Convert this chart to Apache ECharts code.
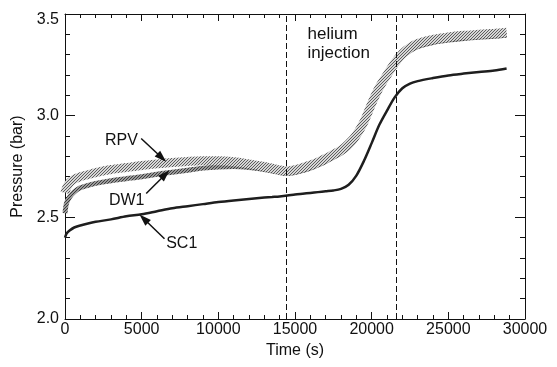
<!DOCTYPE html>
<html><head><meta charset="utf-8">
<script src="https://cdn.jsdelivr.net/npm/echarts@6/dist/echarts.min.js"></script>
<style>html,body{margin:0;padding:0;background:#fff}#c{width:557px;height:367px}</style>
</head><body><div id="c"></div>
<script>
// ---- data ----
const times = [0,100,300,600,1000,1500,2000,3000,4000,5000,6000,7000,8000,9000,10000,11000,12000,13000,13500,14000,14500,15000,15500,16000,16500,17000,17500,18000,18500,19000,19500,20000,20500,21000,21500,22000,22500,23000,24000,25000,26000,27000,28000,28800];
const rpvPressure = [2.62,2.645,2.67,2.688,2.70,2.71,2.72,2.735,2.745,2.755,2.763,2.77,2.775,2.778,2.778,2.773,2.763,2.75,2.742,2.733,2.728,2.735,2.745,2.757,2.772,2.79,2.81,2.83,2.862,2.905,2.97,3.06,3.14,3.20,3.258,3.305,3.335,3.355,3.375,3.387,3.395,3.40,3.405,3.41];
const dw1Pressure = [2.52,2.57,2.60,2.625,2.645,2.657,2.667,2.68,2.69,2.70,2.712,2.722,2.732,2.742,2.748,2.75,2.745,2.735,2.728,2.72,2.715,2.72,2.73,2.742,2.757,2.775,2.795,2.815,2.845,2.888,2.952,3.04,3.12,3.185,3.242,3.29,3.32,3.34,3.36,3.372,3.38,3.386,3.39,3.395];
const sc1Pressure = [2.40,2.42,2.435,2.45,2.46,2.47,2.478,2.49,2.505,2.515,2.53,2.545,2.555,2.565,2.575,2.583,2.59,2.597,2.60,2.603,2.607,2.612,2.616,2.62,2.624,2.628,2.632,2.64,2.66,2.705,2.778,2.865,2.955,3.025,3.09,3.135,3.158,3.17,3.185,3.198,3.207,3.215,3.222,3.232];
const injectionTimes = [14400, 21600];
const seriesNames = ['RPV','DW1','SC1'];

function pairs(vals){ return times.map((t,i)=>[t, vals[i]]); }
function hatch(bg, fg){
  const n = 3;
  const c = document.createElement('canvas'); c.width = n; c.height = n;
  const g = c.getContext('2d'); g.fillStyle = bg; g.fillRect(0,0,n,n);
  g.fillStyle = fg; for (let i=0;i<n;i++) g.fillRect(i,n-1-i,1,1);
  return {image: c, repeat: 'repeat'};
}
const FONT = 'Liberation Sans, Arial, Helvetica, sans-serif';
const INK = '#111';

function axisCommon(isX, showLabels){
  return {
    type:'value',
    min: isX ? 0 : 2.0, max: isX ? 30000 : 3.5, interval: isX ? 5000 : 0.5,
    axisLine:{show:true, onZero:false, lineStyle:{color:INK, width:1}},
    axisTick:{show:true, inside:true, length: isX ? 7 : 10, lineStyle:{color:INK, width:1}},
    minorTick:{show:true, splitNumber:5, length: isX ? 4 : 5, lineStyle:{color:INK, width:1}},
    splitLine:{show:false}, minorSplitLine:{show:false},
    axisLabel:{show:showLabels, color:INK, fontFamily:FONT, fontSize:16,
      margin: isX ? 3 : 6,
      formatter: isX ? (v=>String(v)) : (v=> v===3.5 ? '{top|3.5}' : v.toFixed(1)),
      rich: {top:{fontFamily:FONT, fontSize:16, color:INK, padding:[12,0,0,0]}}
    }
  };
}

const chart = echarts.init(document.getElementById('c'), null, {renderer:'canvas'});
const xBottom = Object.assign(axisCommon(true,true), {position:'bottom', name:'Time (s)', nameLocation:'middle', nameGap:22,
  nameTextStyle:{color:INK, fontFamily:FONT, fontSize:16}});
const xTop = Object.assign(axisCommon(true,false), {position:'top'});
const yLeft = Object.assign(axisCommon(false,true), {position:'left', name:'Pressure (bar)', nameLocation:'middle', nameGap:37,
  nameTextStyle:{color:INK, fontFamily:FONT, fontSize:16}});
const yRight = Object.assign(axisCommon(false,false), {position:'right'});

const arrows = [
  [[4969,2.888],[6313,2.793]],
  [[5296,2.617],[6541,2.711]],
  [[6489,2.395],[5139,2.493]]
];

chart.setOption({
  animation:false,
  backgroundColor:'#fff',
  grid:{left:65, right:32, top:14, bottom:48, containLabel:false},
  xAxis:[xBottom, xTop],
  yAxis:[yLeft, yRight],
  series:[
    {name:seriesNames[1], type:'line', data:pairs(dw1Pressure), showSymbol:false, smooth:0.3,
      lineStyle:{width:5, color:hatch('#9a9a9a','#3c3c3c')}, z:2},
    {name:seriesNames[0], type:'line', data:pairs(rpvPressure), showSymbol:false, smooth:0.3,
      lineStyle:{width:9, color:hatch('#d6d6d6','#5e5e5e')}, z:3},
    {name:seriesNames[2], type:'line', data:pairs(sc1Pressure), showSymbol:false, smooth:0.3,
      lineStyle:{width:2.5, color:'#1e1e1e'}, z:4,
      markLine:{silent:true, symbol:'none', animation:false,
        label:{show:false}, lineStyle:{color:INK, width:1, type:[6,3]},
        data: injectionTimes.map(t=>({xAxis:t}))}
    },
    {name:'annotations', type:'line', data:[], z:5,
      markLine:{silent:true, animation:false, symbol:['none','triangle'], symbolSize:[8,12],
        label:{show:false}, lineStyle:{color:INK, width:1.5, type:'solid'}, itemStyle:{color:INK},
        data: arrows.map(a=>[{coord:a[0]},{coord:a[1]}])}
    }
  ]
});

const labels = [
  {text:seriesNames[0], at:[4748,2.879], align:'right', size:16},
  {text:seriesNames[1], at:[5185,2.584], align:'right', size:16},
  {text:seriesNames[2], at:[6600,2.370], align:'left', size:16},
  {text:'helium', at:[15815,3.401], align:'left', size:17},
  {text:'injection', at:[15815,3.306], align:'left', size:17}
];
chart.setOption({graphic: labels.map(l=>{
  const p = chart.convertToPixel({xAxisIndex:0, yAxisIndex:0}, l.at);
  return {type:'text', x:p[0], y:p[1], z:10, silent:true,
    style:{text:l.text, fill:INK, font: l.size+'px '+FONT, align:l.align, verticalAlign:'middle'}};
})});
</script></body></html>
